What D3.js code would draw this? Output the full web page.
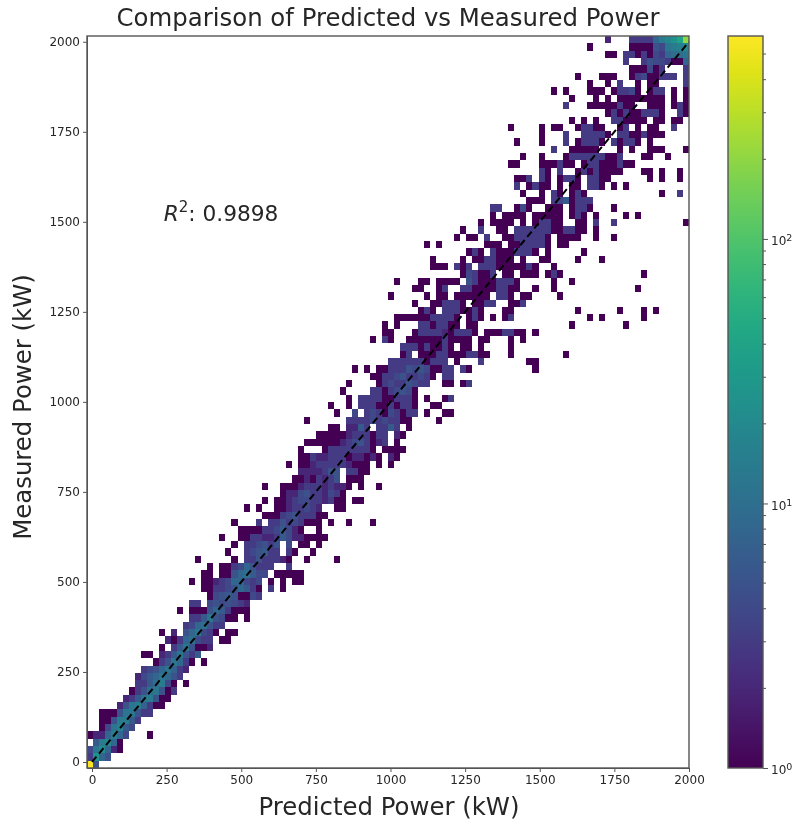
<!DOCTYPE html>
<html>
<head>
<meta charset="utf-8">
<script src="https://cdnjs.cloudflare.com/ajax/libs/d3/7.8.5/d3.min.js"></script>
<style>
body { margin: 0; background: #fff; }
svg { filter: blur(0.4px); }
text { font-family: "DejaVu Sans", sans-serif; fill: #262626; }
.axis text { font-size: 12px; }
.axis path, .axis line { stroke: #555; }
</style>
</head>
<body>
<div id="chart"></div>
<script>
// tick labels
var xTicks = [0, 250, 500, 750, 1000, 1250, 1500, 1750, 2000];
var yTicks = [0, 250, 500, 750, 1000, 1250, 1500, 1750, 2000];
var cbarMajor = [1, 10, 100];
var cbarMinor = [2, 3, 4, 5, 6, 7, 8, 9, 20, 30, 40, 50, 60, 70, 80, 90, 200, 300, 400, 500];
var diagonal = [0, 2000];
var r2 = 0.9898;

// edges of the 100 x 100 histogram
var xEdges = [-16.7, 2000];
var yEdges = [-16.7, 2016];
var nBins = 100;
var countRange = [1, 585];

// counts per row, bottom row first. first number of each row = column of the first count
var rowCounts = [
[0,585,5],
[0,3,25,8,5],
[0,4,12,20,8,2,1],
[1,6,14,18,8,1],
[0,1,2,2,8,14,8,4,0,0,0,1],
[2,1,4,12,16,6,4],
[2,1,1,5,14,14,6,3],
[2,1,1,1,5,12,12,5,3,3],
[5,2,5,12,14,7,3,1,1],
[6,2,3,6,12,14,5,1,1],
[7,1,3,5,10,12,5,1,3],
[8,3,3,6,10,14,4,1,0,1],
[8,2,4,6,8,12,8,5,3],
[9,3,4,5,8,12,7,3,2],
[11,1,3,5,12,8,3,1,0,1],
[9,1,1,0,2,3,6,12,5,3,6],
[12,1,0,3,6,12,5,1,1,2],
[13,2,1,3,8,10,4,3,3,0,1,1],
[12,1,0,2,0,5,8,12,4,3,1,0,1,1],
[16,3,4,8,10,5,3,3],
[17,3,3,6,12,5,4,1,1,0,1],
[15,1,0,1,1,1,5,8,6,3,1,1,1],
[17,3,3,0,4,5,4,5,4,3,2],
[20,1,4,5,6,5,1,1,4,3],
[19,1,1,3,3,4,5,8,6,3,1,0,3,0,1],
[17,1,0,1,1,2,3,4,8,8,4,3,4,0,1,0,1,0,1,1],
[19,1,1,0,1,1,5,8,10,6,4,4,0,1,1,1,1,1],
[20,1,0,1,1,3,4,8,5,3,3,3,0,0,3],
[18,1,0,0,0,0,0,1,0,3,3,5,3,3,3,2,1,0,0,1,0,0,0,0,1],
[23,1,0,0,3,4,5,6,3,3,0,3,1,0,0,1],
[24,1,0,3,3,4,5,3,5,0,4,0,1,1,0,1],
[22,1,0,0,1,1,3,3,2,2,3,6,4,2,2,1,1,1,1],
[25,1,1,1,1,3,3,4,6,4,2,1,0,0,1],
[24,1,0,0,0,3,0,3,3,5,3,4,3,1,1,1,0,1,0,0,1,0,0,0,1],
[29,1,1,1,3,4,5,3,3,3,1,1],
[26,1,0,1,0,0,1,1,2,3,3,4,3,2,0,0,1,1],
[29,1,0,1,1,2,3,4,4,3,3,2,3,1,1,0,1,1],
[32,1,2,2,4,5,3,3,2,4,3,1],
[29,1,0,0,1,1,1,2,3,3,3,2,3,2,2,1,0,1,0,0,1],
[34,1,1,2,1,3,2,3,5,0,1,1,1],
[35,2,2,2,2,3,5,5,0,3,3,1,1],
[33,1,0,1,1,2,3,3,3,3,3,2,1,1,1,0,1,0,1],
[35,1,1,3,2,2,3,3,3,1,2,2,1,2,1,0,2,1],
[35,1,0,0,0,1,3,3,3,3,3,3,3,1,0,1,1,1,1],
[36,1,1,1,1,1,1,2,3,4,5,3,1,2,3,0,1],
[38,1,1,1,1,1,2,3,3,3,1,3,3,0,2,1],
[40,1,1,0,2,2,6,3,0,3,3,6,3,0,1],
[36,1,0,0,0,0,0,0,3,3,3,3,4,3,4,3,3,1,1,0,0,0,0,1],
[41,1,0,0,4,0,3,4,3,1,4,3,1,3,3,0,1,0,0,1,1],
[40,1,0,0,1,0,3,3,3,1,1,3,1,3,3,1,0,0,1,1],
[43,1,0,3,3,3,3,1,1,3,3,3,1,0,1,0,0,1,3],
[42,1,0,0,0,0,3,3,1,3,4,5,4,1],
[43,1,0,0,0,0,1,3,4,3,3,5,4,3,3,0,0,1,1,0,1,3],
[47,1,1,3,3,4,5,3,3,4,3,1,0,3,3],
[44,1,0,1,0,1,1,3,3,3,5,4,5,4,1,1,3,3,0,3,1,0,0,0,0,0,0,0,0,0,0,1],
[50,3,3,3,3,3,3,1,3,3,3,0,1,0,0,0,3,0,0,0,0,0,0,0,1,1],
[52,1,3,0,1,1,1,3,3,1,1,1,3,3,1,1,0,0,0,1,0,0,0,0,0,0,0,0,1],
[52,3,3,3,1,3,1,1,3,1,0,1,1,0,1,0,0,0,0,1],
[47,1,0,3,1,0,0,1,1,1,1,1,1,3,1,1,1,1,0,1,1,0,0,0,1,0,1],
[49,1,1,0,0,0,1,3,3,3,3,2,1,3,3,3,1,0,1,1,1,3,3,1,1,0,1],
[49,1,0,1,0,0,0,3,3,1,3,3,1,1,0,1,1,0,0,0,0,0,0,0,0,0,0,0,0,0,0,0,1,0,0,0,0,0,0,0,0,1],
[51,1,1,1,1,1,1,3,3,3,3,1,0,1,3,1,0,1,0,1,3,0,0,0,0,0,0,0,0,0,0,0,0,1,0,1,0,0,0,0,0,0,1],
[55,1,3,1,0,3,3,3,1,1,3,1,0,0,0,1,1,0,0,0,0,0,0,0,0,0,0,1,0,0,0,0,0,0,1,0,0,0,1,0,1],
[54,1,0,0,1,1,3,3,3,1,0,1,1,3,3,0,0,1,1,3],
[50,1,0,0,0,0,0,1,0,1,1,0,1,1,1,1,1,1,0,3,3,1,0,1,1,0,0,0,0,1],
[54,1,1,0,0,1,3,0,0,3,3,1,1,1,1,3,3,1,1,0,0,1,0,0,1,0,0,0,0,0,0,0,0,0,0,0,0,0,1],
[51,1,0,0,0,1,1,0,1,1,1,1,0,5,3,1,1,1,3,3,3,1,0,0,0,0,0,1,0,0,1],
[62,1,4,3,1,1,3,0,1,1,0,1,1,1,0,1,3,1,0,0,0,0,0,0,0,0,0,0,0,0,0,1],
[57,1,1,1,0,3,1,3,0,3,3,3,1,1,1,1,1,3,1,0,0,1],
[57,1,0,0,0,0,1,0,1,1,3,3,1,1,1,0,1,0,0,1,1,0,0,0,0,1,0,0,0,1],
[63,1,3,1,0,3,1,1,1,3,3,3,1,0,1,0,0,0,0,0,1],
[56,1,0,1,0,0,0,0,0,0,0,1,1,1,0,1,1,3,3,3,3,1,0,1,1],
[61,1,0,1,1,0,3,0,0,1,1,3,3,3,3,3,1,0,1,1,1,1,0,0,1,0,0,1],
[62,1,0,0,3,0,0,1,1,0,3,3,3,3,3,3,1,1,3,3,1,1,0,1],
[65,1,0,1,1,1,1,0,1,0,1,3,3,1,1,0,0,1,1,0,3,0,0,3,0,0,0,0,0,0,0,0,0,0,0,1],
[67,1,0,1,1,1,1,0,1,1,1,1,1,0,1,3,1,0,1,0,0,0,0,1,0,1],
[67,3,3,0,0,1,4,1,0,0,1,1,1,0,1,3,3,1,0,0,0,1],
[73,1,1,1,0,3,4,6,1,3,3,3],
[72,1,0,0,1,0,3,1,0,1,3,1,0,0,0,0,0,0,0,0,0,0,0,0,1,0,0,3],
[71,3,0,1,3,1,1,0,1,0,1,1,0,3,3,1,0,1,0,1],
[71,1,1,3,0,3,1,0,1,3,3,1,0,3,3,1,1,0,0,0,0,0,0,1,0,1,0,0,1],
[75,3,1,0,3,0,0,1,3,1,3,1,1,1,1,0,0,0,1,1,0,1,0,0,1],
[70,1,1,0,0,0,1,1,1,3,1,1,0,1,3,3,1,1,1,3,1,1],
[72,1,0,0,1,0,0,0,1,3,3,3,3,3,3,1,1,3,0,0,0,1,1,0,0,1],
[77,3,0,0,1,1,1,1,1,0,0,0,1,0,1,0,0,1,1,1,0,0,0,1],
[71,1,0,0,0,1,0,0,0,3,0,1,3,3,3,1,0,3,1,3,3,1,0,1],
[75,1,0,0,0,3,0,0,3,3,3,3,1,0,3,3,1,1,3,1,1,1],
[70,1,0,0,0,0,1,0,1,1,0,0,1,3,3,1,1,0,0,1,3,0,1,0,1,1,0,0,3],
[80,1,0,1,0,1,0,0,3,3,1,1,1,1,0,1,1,0,1,1],
[86,1,3,1,3,1,1,3,3,3,1,0,0,3,1],
[79,3,0,0,0,1,1,1,1,1,3,1,1,0,0,1,1,1,0,1,3,1],
[80,1,0,0,0,1,0,1,0,1,1,1,1,1,1,1,1,0,1,0,1],
[77,1,0,1,0,0,0,1,1,1,0,1,3,3,4,1,0,1,3,3,0,1,0,1],
[83,1,0,0,1,0,3,0,0,1,0,1,1,0,0,0,0,3],
[81,1,0,0,0,1,1,1,0,0,1,3,4,1,1,3,3,3,0,3],
[90,1,1,1,4,1,3,0,0,0,3],
[89,3,0,0,3,5,4,4,3,1,1,8],
[86,1,1,0,3,3,1,3,1,4,3,8,10,10,12],
[83,1,0,0,0,0,0,0,1,1,1,1,5,4,12,14,16,20],
[86,2,0,0,0,3,3,3,3,8,14,18,25,40,200]
];

var width = 797, height = 820;
var margin = {top: 36, left: 87, right: 108, bottom: 52};
var plotW = width - margin.left - margin.right;
var plotH = height - margin.top - margin.bottom;

var svg = d3.select("#chart").append("svg")
    .attr("width", width)
    .attr("height", height)
    .style("display", "block");

var x = d3.scaleLinear().domain(xEdges).range([margin.left, margin.left + plotW]);
var y = d3.scaleLinear().domain(yEdges).range([margin.top + plotH, margin.top]);
var color = d3.scaleSequentialLog(d3.interpolateViridis).domain(countRange);

var xBinW = (xEdges[1] - xEdges[0]) / nBins;
var yBinW = (yEdges[1] - yEdges[0]) / nBins;

// flatten into cells
var cells = [];
rowCounts.forEach(function(row, r) {
    row.slice(1).forEach(function(n, i) {
        if (n > 0) cells.push({col: row[0] + i, row: r, n: n});
    });
});

svg.append("g")
    .attr("shape-rendering", "crispEdges")
    .selectAll("rect")
    .data(cells)
    .enter().append("rect")
    .attr("x", function(d) { return x(xEdges[0] + d.col * xBinW); })
    .attr("y", function(d) { return y(yEdges[0] + (d.row + 1) * yBinW); })
    .attr("width", function(d) { return x(xEdges[0] + xBinW) - x(xEdges[0]); })
    .attr("height", function(d) { return y(yEdges[0]) - y(yEdges[0] + yBinW); })
    .style("fill", function(d) { return color(d.n); });

// 1:1 line
svg.append("line")
    .attr("x1", x(diagonal[0]))
    .attr("y1", y(diagonal[0]))
    .attr("x2", x(diagonal[1]))
    .attr("y2", y(diagonal[1]))
    .style("stroke", "black")
    .style("stroke-width", 2)
    .style("stroke-dasharray", "7,4");

// axes
svg.append("g")
    .attr("class", "axis")
    .attr("transform", "translate(0," + (margin.top + plotH) + ")")
    .call(d3.axisBottom(x).tickValues(xTicks).tickFormat(d3.format("d")).tickSize(4).tickSizeOuter(0));

svg.append("g")
    .attr("class", "axis")
    .attr("transform", "translate(" + margin.left + ",0)")
    .call(d3.axisLeft(y).tickValues(yTicks).tickFormat(d3.format("d")).tickSize(4).tickSizeOuter(0));

svg.append("rect")
    .attr("x", margin.left)
    .attr("y", margin.top)
    .attr("width", plotW)
    .attr("height", plotH)
    .style("fill", "none")
    .style("stroke", "#555")
    .style("stroke-width", 1.4);

// titles
svg.append("text")
    .attr("x", 388)
    .attr("y", 26)
    .attr("text-anchor", "middle")
    .style("font-size", "24.4px")
    .text("Comparison of Predicted vs Measured Power");

svg.append("text")
    .attr("x", 389)
    .attr("y", 815)
    .attr("text-anchor", "middle")
    .style("font-size", "24.4px")
    .text("Predicted Power (kW)");

svg.append("text")
    .attr("transform", "translate(31,407) rotate(-90)")
    .attr("text-anchor", "middle")
    .style("font-size", "24.4px")
    .text("Measured Power (kW)");

// r squared note
var note = svg.append("text")
    .attr("x", x(240))
    .attr("y", y(1500) - 1)
    .style("font-size", "21.7px");
note.append("tspan").style("font-style", "italic").text("R");
note.append("tspan").attr("dy", -9).style("font-size", "15px").text("2");
note.append("tspan").attr("dy", 9).text(": " + r2);

// colorbar
var cbarX = 728, cbarW = 35;
var cbarScale = d3.scaleLog().domain(countRange).range([margin.top + plotH, margin.top]);

var grad = svg.append("defs").append("linearGradient")
    .attr("id", "cbar")
    .attr("x1", "0%").attr("y1", "100%")
    .attr("x2", "0%").attr("y2", "0%");
d3.range(0, 1.01, 0.05).forEach(function(t) {
    grad.append("stop")
        .attr("offset", (t * 100) + "%")
        .attr("stop-color", d3.interpolateViridis(t));
});

svg.append("rect")
    .attr("x", cbarX)
    .attr("y", margin.top)
    .attr("width", cbarW)
    .attr("height", plotH)
    .style("fill", "url(#cbar)")
    .style("stroke", "#555")
    .style("stroke-width", 1.4);

var cbarAxis = svg.append("g")
    .attr("class", "axis")
    .attr("transform", "translate(" + (cbarX + cbarW) + ",0)")
    .call(d3.axisRight(cbarScale).tickValues(cbarMajor).tickSize(5).tickSizeOuter(0)
        .tickFormat(function() { return ""; }));
cbarAxis.select(".domain").remove();

cbarAxis.selectAll(".tick text").each(function(d) {
    var t = d3.select(this);
    t.append("tspan").text("10");
    t.append("tspan")
        .attr("dy", -4)
        .style("font-size", "9.5px")
        .text(Math.round(Math.log10(d)));
});
cbarAxis.selectAll(".tick text").attr("y", 2);

svg.append("g")
    .attr("transform", "translate(" + (cbarX + cbarW) + ",0)")
    .selectAll("line")
    .data(cbarMinor)
    .enter().append("line")
    .attr("x2", 3)
    .attr("y1", function(d) { return cbarScale(d); })
    .attr("y2", function(d) { return cbarScale(d); })
    .style("stroke", "#555");
</script>
</body>
</html>
